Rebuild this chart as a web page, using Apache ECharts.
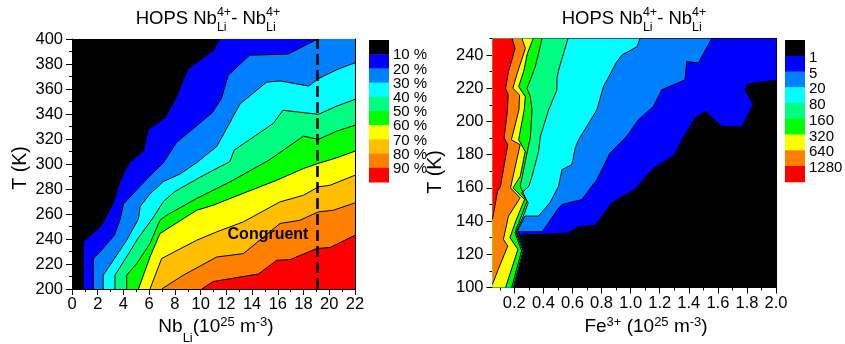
<!DOCTYPE html>
<html><head><meta charset="utf-8">
<script src="https://cdn.jsdelivr.net/npm/echarts@6/dist/echarts.min.js"></script>
<style>html,body{margin:0;padding:0;background:#fff}#c{width:845px;height:344px}</style>
</head><body><div id="c"></div>
<script>
// ---------------- DATA ----------------
// Left panel: Nb_Li (1e25 m^-3) vs T (K); contour boundaries [x, T]
const leftLevels = ['10 %','20 %','30 %','40 %','50 %','60 %','70 %','80 %','90 %'];
const leftColors = ['#000000','#0000FF','#0080FF','#00FFFF','#00FF80','#00FF00','#FFFF00','#FFBF00','#FF8000','#FF0000'];
const leftB10 = [[0.88,200],[0.88,237.6],[2.3,251],[3.2,268.5],[3.75,287],[4.5,301.5],[5.55,310.3],[5.93,327.7],[7.23,337],[8.1,353],[9.0,376],[11.0,391],[11.2,395],[11.5,400]];
const leftB20 = [[1.66,200],[1.66,224],[2.2,230],[3.3,243],[3.75,256],[4.0,268],[5.0,279],[6.2,292],[7.1,301],[8.1,317],[10.9,341],[11.6,352],[12.15,371],[13.8,387],[16.8,388],[19.1,400]];
const leftB30 = [[2.43,200],[2.43,211],[3.21,223],[4.25,239],[5.16,256],[5.3,266],[6.06,276],[7.1,286],[8.4,292],[9.69,301],[11.25,314],[12.0,328],[13.06,348],[15.13,365.5],[16.2,366.4],[18.4,362.4],[19.2,368.5],[20.6,375.5],[22,381]];
const leftB40 = [[3.34,200],[3.34,211],[4.2,225],[5.1,240],[6.3,257],[7.1,270],[8.0,278],[10.0,289.7],[12.28,302],[12.6,311],[15.65,332.5],[16.4,343],[19.15,339.7],[20.58,346.3],[22,351.7]];
const leftB50 = [[4.25,200],[4.25,211],[5.03,220.3],[6.06,236.4],[6.84,255],[7.36,259],[9.69,272.4],[12.28,285.7],[15.3,303],[18.0,322.3],[19.15,319.7],[20.58,326.3],[22,331]];
const leftB60 = [[5.16,200],[6.06,225.6],[6.84,244.4],[9.69,263],[10.98,267],[12.28,272.4],[15.91,287],[18.0,296.4],[19.15,300.5],[20.58,305],[22,310.3]];
const leftB70 = [[6.06,200],[6.97,224.4],[9.69,239],[11.25,245.7],[13.32,253.7],[16.17,269.7],[18.0,275],[19.15,281.7],[20.06,283],[22,291]];
const leftB80 = [[6.97,200],[7.62,204.3],[8.65,211],[11.25,225.6],[13.32,228.3],[16.17,252.4],[17.72,255],[19.15,261.7],[20.31,263],[22,268.9]];
const leftB90 = [[10.08,200],[10.98,206],[14.5,212],[15.91,223],[16.95,223.5],[19.02,232.4],[20.06,233.2],[22,243]];
const leftBoundaries = [leftB10,leftB20,leftB30,leftB40,leftB50,leftB60,leftB70,leftB80,leftB90];
const congruentX = 19.1;
const leftXTicks = [0,22,2];     // min, max, interval
const leftYTicks = [200,400,20];

// Right panel: Fe3+ (1e25 m^-3) vs T (K); contour lines [x, T]
const rightLevels = ['1','5','20','80','160','320','640','1280'];
const rightColors = ['#000000','#0000FF','#0080FF','#00FFFF','#00FF80','#00FF00','#FFFF00','#FF8000','#FF0000'];
const rightC1 = [[2.0,224.8],[1.81,222.7],[1.787,219.1],[1.844,210.1],[1.764,196.7],[1.627,197.1],[1.512,206.1],[1.443,202],[1.328,185],[1.306,180.1],[1.146,171],[1.031,159],[0.871,151],[0.756,137.4],[0.642,136.6],[0.573,132.9],[0.40,132],[0.235,131.6],[0.28,122],[0.208,100]];
const rightC5 = [[1.558,250],[1.466,235.2],[1.386,236.2],[1.374,225.1],[1.214,219.1],[1.157,209.1],[1.054,201.1],[0.974,191.1],[0.859,181.1],[0.768,165],[0.665,153],[0.528,150],[0.493,146.6],[0.425,137.6],[0.39,133.6],[0.228,133.6],[0.272,122],[0.203,100]];
const rightC20 = [[1.065,250],[1.043,245],[0.94,240],[0.905,236],[0.813,221],[0.768,207],[0.642,189],[0.619,184],[0.596,174],[0.528,171],[0.504,161],[0.445,151],[0.365,143],[0.273,143],[0.218,133.4],[0.266,122],[0.198,100]];
const rightC80 = [[0.569,250],[0.505,231],[0.493,226],[0.493,219],[0.436,207],[0.379,191],[0.367,182],[0.322,167],[0.30,161],[0.25,157],[0.296,151],[0.262,143],[0.212,133.2],[0.26,122],[0.192,100]];
const rightC160 = [[0.39,250],[0.367,241],[0.344,233],[0.31,225],[0.287,220],[0.31,215],[0.322,207],[0.31,190],[0.287,181],[0.241,161],[0.287,152],[0.235,140],[0.205,133],[0.25,122],[0.182,100]];
const rightC320 = [[0.33,250],[0.29,241],[0.264,230],[0.23,221],[0.276,215],[0.268,207],[0.23,189],[0.275,182],[0.241,167],[0.191,160],[0.27,153],[0.21,140],[0.17,130],[0.225,123],[0.14,100]];
const rightC640 = [[0.253,250],[0.276,244],[0.22,229],[0.19,220],[0.236,216],[0.232,207],[0.18,189],[0.24,186],[0.174,160],[0.24,154],[0.16,143],[0.125,129],[0.155,125],[0.09,111],[0.05,102]];
const rightC1280 = [[0.185,250],[0.205,244],[0.16,230],[0.14,220],[0.158,216],[0.153,207],[0.13,190],[0.155,186],[0.105,161],[0.085,158],[0.06,146],[0.05,141]];
const rightContours = [rightC1,rightC5,rightC20,rightC80,rightC160,rightC320,rightC640,rightC1280];
const rightXRange = [0.05, 2.0];
const rightXLabels = [0.2,0.4,0.6,0.8,1.0,1.2,1.4,1.6,1.8,2.0];
const rightXMinor = [0.1,0.3,0.5,0.7,0.9,1.1,1.3,1.5,1.7,1.9];
const rightYRange = [100, 250];
const rightYLabels = [100,120,140,160,180,200,220,240];
const rightYMinor = [110,130,150,170,190,210,230,250];

// ---------------- RENDER ----------------
const FONT = '"Liberation Sans", Arial, Helvetica, sans-serif';
const chart = echarts.init(document.getElementById('c'), null, {renderer:'canvas', width:845, height:344});
const ctx = document.createElement('canvas').getContext('2d');
function tw(t, size, weight){ ctx.font = (weight||'normal') + ' ' + size + 'px ' + FONT; return ctx.measureText(t).width; }
function T(text, x, y, size, weight){
  return {type:'text', x:x, y:y, style:{text:text, fontSize:size, fontFamily:FONT, fontWeight:weight||'normal', fill:'#000',
    align:'left', textAlign:'left', verticalAlign:'middle', textVerticalAlign:'middle'}};
}
function composed(parts, cx, cy, o){
  const els = []; let x = 0;
  parts.forEach(p => {
    if (typeof p === 'string') { els.push(T(p, x, 0, o.size)); x += tw(p, o.size); }
    else {
      let w = 0;
      if (p.sup) { els.push(T(p.sup, x, o.supDy, o.small)); w = Math.max(w, tw(p.sup, o.small)); }
      if (p.sub) { els.push(T(p.sub, x, o.subDy, o.small)); w = Math.max(w, tw(p.sub, o.small)); }
      x += w;
    }
  });
  els.forEach(e => { e.x -= x/2; });
  return {type:'group', x:cx, y:cy, rotation:o.rotation||0, children:els};
}

const black = {color:'#000', width:1};
function mainAxis(gi, pos, min, max, interval, extra){
  return Object.assign({type:'value', gridIndex:gi, position:pos, min:min, max:max, interval:interval,
    axisLine:{show:true, onZero:false, lineStyle:black},
    axisTick:{show:true, length:6, lineStyle:black},
    minorTick:{show:true, splitNumber:2, length:3, lineStyle:black},
    splitLine:{show:false}, minorSplitLine:{show:false},
    axisLabel:{color:'#000', fontSize:16.5, fontFamily:FONT, margin:8}}, extra||{});
}
function frameAxis(gi, pos, min, max){
  return {type:'value', gridIndex:gi, position:pos, min:min, max:max,
    axisLine:{show:true, onZero:false, lineStyle:black}, axisTick:{show:false}, axisLabel:{show:false}, splitLine:{show:false}};
}

const xAxes = [
  mainAxis(0,'bottom',leftXTicks[0],leftXTicks[1],leftXTicks[2],{axisLabel:{color:'#000',fontSize:16.5,fontFamily:FONT,margin:7}}),
  frameAxis(0,'top',leftXTicks[0],leftXTicks[1]),
  {type:'value', gridIndex:1, position:'bottom', min:rightXRange[0], max:rightXRange[1],
    axisLine:{show:true, onZero:false, lineStyle:black},
    axisTick:{show:true, length:6, lineStyle:black, customValues:rightXLabels},
    axisLabel:{color:'#000', fontSize:16.5, fontFamily:FONT, margin:7, customValues:rightXLabels, formatter:v=>Number(v).toFixed(1)},
    splitLine:{show:false}},
  {type:'value', gridIndex:1, position:'bottom', min:rightXRange[0], max:rightXRange[1],
    axisLine:{show:false}, axisTick:{show:true, length:3, lineStyle:black, customValues:rightXMinor},
    axisLabel:{show:false}, splitLine:{show:false}},
  frameAxis(1,'top',rightXRange[0],rightXRange[1])
];
const yAxes = [
  mainAxis(0,'left',leftYTicks[0],leftYTicks[1],leftYTicks[2],{axisLabel:{color:'#000',fontSize:16.5,fontFamily:FONT,margin:9}}),
  frameAxis(0,'right',leftYTicks[0],leftYTicks[1]),
  {type:'value', gridIndex:1, position:'left', min:rightYRange[0], max:rightYRange[1],
    axisLine:{show:true, onZero:false, lineStyle:black},
    axisTick:{show:true, length:6, lineStyle:black, customValues:rightYLabels},
    axisLabel:{color:'#000', fontSize:16.5, fontFamily:FONT, margin:9, customValues:rightYLabels},
    splitLine:{show:false}},
  {type:'value', gridIndex:1, position:'left', min:rightYRange[0], max:rightYRange[1],
    axisLine:{show:false}, axisTick:{show:true, length:3, lineStyle:black, customValues:rightYMinor},
    axisLabel:{show:false}, splitLine:{show:false}},
  frameAxis(1,'right',rightYRange[0],rightYRange[1])
];

const series = [];
// left bands: area above-left of each boundary, painted from 90% down to 10%
series.push({
  type:'custom', xAxisIndex:0, yAxisIndex:0, clip:true, silent:true, z:1,
  data: leftBoundaries.map((b,k)=>[leftXTicks[0], leftYTicks[0], k]).reverse(),
  renderItem:(params, api) => {
    const k = api.value(2);
    const pts = leftBoundaries[k].concat([[leftXTicks[1],leftYTicks[1]],[leftXTicks[0],leftYTicks[1]],[leftXTicks[0],leftYTicks[0]]]).map(p=>api.coord(p));
    return {type:'polygon', shape:{points:pts}, style:{fill:leftColors[k], stroke:null}};
  }
});
leftBoundaries.forEach((b,k) => {
  const s = {type:'line', xAxisIndex:0, yAxisIndex:0, data:b, symbol:'none', showSymbol:false, clip:true, silent:true, z:3,
    lineStyle:{color:'#000', width:1}};
  if (k === leftBoundaries.length-1) {
    s.markLine = {silent:true, symbol:'none', label:{show:false}, animation:false,
      lineStyle:{type:[11,5], color:'#000', width:2.6}, data:[{xAxis:congruentX}]};
  }
  series.push(s);
});
// right bands: area left of each contour
series.push({
  type:'custom', xAxisIndex:2, yAxisIndex:2, clip:true, silent:true, z:1,
  data: rightContours.map((c,k)=>[rightXRange[0], rightYRange[0], k]),
  renderItem:(params, api) => {
    const k = api.value(2);
    const pts = [[rightXRange[1],rightYRange[1]]].concat(rightContours[k], [[rightXRange[0],rightYRange[0]],[rightXRange[0],rightYRange[1]]]).map(p=>api.coord(p));
    return {type:'polygon', shape:{points:pts}, style:{fill:rightColors[k+1], stroke:null}};
  }
});
rightContours.forEach((c,k) => {
  series.push({type:'line', xAxisIndex:2, yAxisIndex:2, data:c, symbol:'none', showSymbol:false, clip:true, silent:true, z:3,
    lineStyle:{color:'#000', width:1}});
});

// graphics: legends, titles, axis names, annotation
const g = [];
const LLx = 369, LLy = 40, LLh = 14.2, LLw = 20;
leftColors.forEach((c,i)=> g.push({type:'rect', shape:{x:LLx, y:LLy+i*LLh, width:LLw, height:LLh+0.5}, style:{fill:c}}));
leftLevels.forEach((t,i)=> g.push(T(t, LLx+24, LLy+(i+1)*LLh+1, 15)));
const RLx = 785, RLy = 40, RLh = 15.75, RLw = 20;
rightColors.forEach((c,i)=> g.push({type:'rect', shape:{x:RLx, y:RLy+i*RLh, width:RLw, height:RLh+0.5}, style:{fill:c}}));
rightLevels.forEach((t,i)=> g.push(T(t, RLx+24, RLy+(i+1)*RLh+2, 15)));

const titleParts = ['HOPS Nb', {sup:'4+', sub:'Li'}, '- Nb', {sup:'4+', sub:'Li'}];
const tOpt = {size:18.5, small:12.5, supDy:-6, subDy:9};
g.push(composed(titleParts, 208, 19, tOpt));
g.push(composed(titleParts, 634, 19, tOpt));
const axOpt = {size:19, small:13, supDy:-5, subDy:11};
g.push(composed(['Nb', {sub:'Li'}, '(10', {sup:'25'}, ' m', {sup:'-3'}, ')'], 216, 327, axOpt));
g.push(composed(['Fe', {sup:'3+'}, ' (10', {sup:'25'}, ' m', {sup:'-3'}, ')'], 646, 327, axOpt));
g.push(composed(['T (K)'], 21, 168, {size:19.5, small:13, supDy:0, subDy:0, rotation:Math.PI/2}));
g.push(composed(['T (K)'], 436, 172, {size:19.5, small:13, supDy:0, subDy:0, rotation:Math.PI/2}));
const cg = T('Congruent', 268 - tw('Congruent',16,'bold')/2, 235, 16, 'bold');
g.push(cg);

chart.setOption({
  animation:false,
  backgroundColor:'#fff',
  grid:[
    {left:72, top:39, width:283, height:250, show:true, backgroundColor:leftColors[leftColors.length-1], borderWidth:0},
    {left:492.5, top:38.5, width:283.5, height:249, show:true, backgroundColor:rightColors[0], borderWidth:0}
  ],
  xAxis:xAxes, yAxis:yAxes, series:series,
  graphic:{elements:g.map(e=>Object.assign(e,{z:100, silent:true}))}
});
</script></body></html>
